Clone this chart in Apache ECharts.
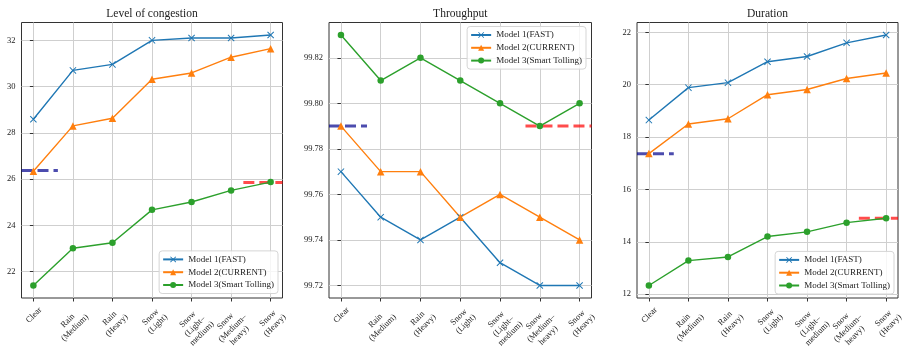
<!DOCTYPE html>
<html>
<head>
<meta charset="utf-8">
<script src="https://cdn.jsdelivr.net/npm/echarts@6/dist/echarts.min.js"></script>
<style>
  html, body { margin: 0; padding: 0; background: #fff; }
  #chart { width: 906px; height: 354px; }
</style>
</head>
<body>
<div id="chart"></div>
<script>
// ---- data ----
const categories = ['Clear', 'Rain\n(Medium)', 'Rain\n(Heavy)', 'Snow\n(Light)',
  'Snow\n(Light–\nmedium)', 'Snow\n(Medium–\nheavy)', 'Snow\n(Heavy)'];
const seriesNames = ['Model 1(FAST)', 'Model 2(CURRENT)', 'Model 3(Smart Tolling)'];
const panelTitles = ['Level of congestion', 'Throughput', 'Duration'];

const congestionFast    = [28.59, 30.70, 30.96, 32.00, 32.10, 32.10, 32.23];
const congestionCurrent = [26.34, 28.30, 28.63, 30.32, 30.59, 31.27, 31.64];
const congestionSmart   = [21.40, 23.01, 23.25, 24.67, 25.01, 25.51, 25.87];
const congestionRefs    = [26.37, 25.85];   // baseline (left), target (right)

const throughputFast    = [99.77, 99.75, 99.74, 99.75, 99.73, 99.72, 99.72];
const throughputCurrent = [99.79, 99.77, 99.77, 99.75, 99.76, 99.75, 99.74];
const throughputSmart   = [99.83, 99.81, 99.82, 99.81, 99.80, 99.79, 99.80];
const throughputRefs    = [99.79, 99.79];

const durationFast      = [18.65, 19.89, 20.08, 20.88, 21.08, 21.60, 21.90];
const durationCurrent   = [17.37, 18.50, 18.70, 19.62, 19.82, 20.24, 20.45];
const durationSmart     = [12.33, 13.28, 13.42, 14.20, 14.38, 14.73, 14.90];
const durationRefs      = [17.36, 14.90];

// extent of the reference segments along the category axis
const congestionRefSpans = [[-0.3, 0.62], [5.31, 6.3]];
const throughputRefSpans = [[-0.3, 0.655], [4.64, 6.3]];
const durationRefSpans   = [[-0.3, 0.63], [5.31, 6.3]];

const congestionTicks = [22, 24, 26, 28, 30, 32];
const throughputTicks = [99.72, 99.74, 99.76, 99.78, 99.80, 99.82];
const durationTicks   = [12, 14, 16, 18, 20, 22];

// ---- styling ----
const FONT = 'Liberation Serif';
const TEXT = '#222';
const GRIDLINE = '#cfcfcf';
const COLORS = ['#1f77b4', '#ff7f0e', '#2ca02c'];
const REF_COLORS = ['rgba(0,0,139,0.7)', 'rgba(255,0,0,0.7)'];
const X_SYMBOL = 'path://M0,1L1,0L5,4L9,0L10,1L6,5L10,9L9,10L5,6L1,10L0,9L4,5Z';
const SYMBOLS = [X_SYMBOL, 'triangle', 'circle'];
const SYMBOL_SIZES = [7, 7.5, 6.5];

const panels = [
  { title: panelTitles[0], series: [congestionFast, congestionCurrent, congestionSmart],
    refs: congestionRefs, spans: congestionRefSpans, ticks: congestionTicks, decimals: 0,
    grid: { left: 21.5, top: 22.5, width: 261, height: 275.5 },
    legend: { right: 628, bottom: 60.5 } },
  { title: panelTitles[1], series: [throughputFast, throughputCurrent, throughputSmart],
    refs: throughputRefs, spans: throughputRefSpans, ticks: throughputTicks, decimals: 2,
    grid: { left: 329, top: 22.5, width: 262.5, height: 275.5 },
    legend: { right: 320, top: 26.5 } },
  { title: panelTitles[2], series: [durationFast, durationCurrent, durationSmart],
    refs: durationRefs, spans: durationRefSpans, ticks: durationTicks, decimals: 0,
    grid: { left: 637, top: 22.5, width: 261, height: 275.5 },
    legend: { right: 12, bottom: 60 } }
];

const catIdx = categories.map((_, i) => i);

function paddedExtent(arrays) {
  const all = [].concat(...arrays);
  const lo = Math.min(...all), hi = Math.max(...all);
  const pad = (hi - lo) * 0.05;
  return [lo - pad, hi + pad];
}

const option = {
  animation: false,
  textStyle: { fontFamily: FONT },
  title: [], grid: [], xAxis: [], yAxis: [], legend: [], series: []
};

panels.forEach((p, k) => {
  const g = p.grid;
  option.grid.push({
    left: g.left, top: g.top, width: g.width, height: g.height,
    show: true, borderColor: '#333', borderWidth: 1, backgroundColor: 'transparent',
    containLabel: false, outerBoundsMode: 'none'
  });
  option.title.push({
    text: p.title, left: g.left + g.width / 2, top: 8, textAlign: 'center', padding: 0,
    textStyle: { fontFamily: FONT, fontSize: 11.5, fontWeight: 'normal', color: TEXT }
  });
  option.xAxis.push({
    type: 'value', gridIndex: k, min: -0.3, max: 6.3,
    axisLine: { show: false },
    axisTick: { show: true, customValues: catIdx, length: 3.5, lineStyle: { color: '#333', width: 1 } },
    axisLabel: {
      show: true, customValues: catIdx, rotate: 45, align: 'right', verticalAlign: 'top',
      margin: 3.5, padding: [5, 0, 0, 0],
      formatter: v => categories[Math.round(v)].split('\n').map(s => '{c|' + s + '}').join('\n'),
      rich: { c: { align: 'center', fontFamily: FONT, fontSize: 8.5, color: TEXT, lineHeight: 10 } }
    },
    splitLine: { show: true, lineStyle: { color: GRIDLINE, width: 1 } }
  });
  const ext = paddedExtent(p.series.concat([p.refs]));
  option.yAxis.push({
    type: 'value', gridIndex: k, min: ext[0], max: ext[1],
    axisLine: { show: false },
    axisTick: { show: true, customValues: p.ticks, length: 3.5, lineStyle: { color: '#333', width: 1 } },
    axisLabel: {
      show: true, customValues: p.ticks, margin: 6,
      formatter: v => Number(v).toFixed(p.decimals),
      fontFamily: FONT, fontSize: 8.5, color: TEXT
    },
    splitLine: { show: true, lineStyle: { color: GRIDLINE, width: 1 } }
  });

  // dashed reference segments (drawn beneath the model lines)
  p.refs.forEach((val, r) => {
    option.series.push({
      type: 'line', name: r === 0 ? 'baseline' : 'target',
      xAxisIndex: k, yAxisIndex: k, silent: true, z: 1,
      symbol: 'none', showSymbol: false,
      data: [[p.spans[r][0], val], [p.spans[r][1], val]],
      lineStyle: { color: REF_COLORS[r], width: 3, type: [11, 5] }
    });
  });

  p.series.forEach((vals, s) => {
    option.series.push({
      type: 'line', name: seriesNames[s], xAxisIndex: k, yAxisIndex: k, z: 3,
      data: vals.map((v, i) => [i, v]),
      symbol: SYMBOLS[s], symbolSize: SYMBOL_SIZES[s], showSymbol: true,
      lineStyle: { color: COLORS[s], width: 1.4 },
      itemStyle: { color: COLORS[s] },
      emphasis: { disabled: true }
    });
  });

  option.legend.push(Object.assign({
    data: seriesNames, orient: 'vertical', align: 'left',
    itemWidth: 20, itemHeight: 7.5, itemGap: 1.8,
    padding: [3, 4, 3, 3],
    borderColor: '#d5d5d5', borderWidth: 1, borderRadius: 3,
    backgroundColor: 'rgba(255,255,255,0.8)',
    selectedMode: false,
    textStyle: { fontFamily: FONT, fontSize: 9, color: TEXT, lineHeight: 11 }
  }, p.legend));
});

const chart = echarts.init(document.getElementById('chart'), null, { renderer: 'canvas' });
chart.setOption(option);
</script>
</body>
</html>
